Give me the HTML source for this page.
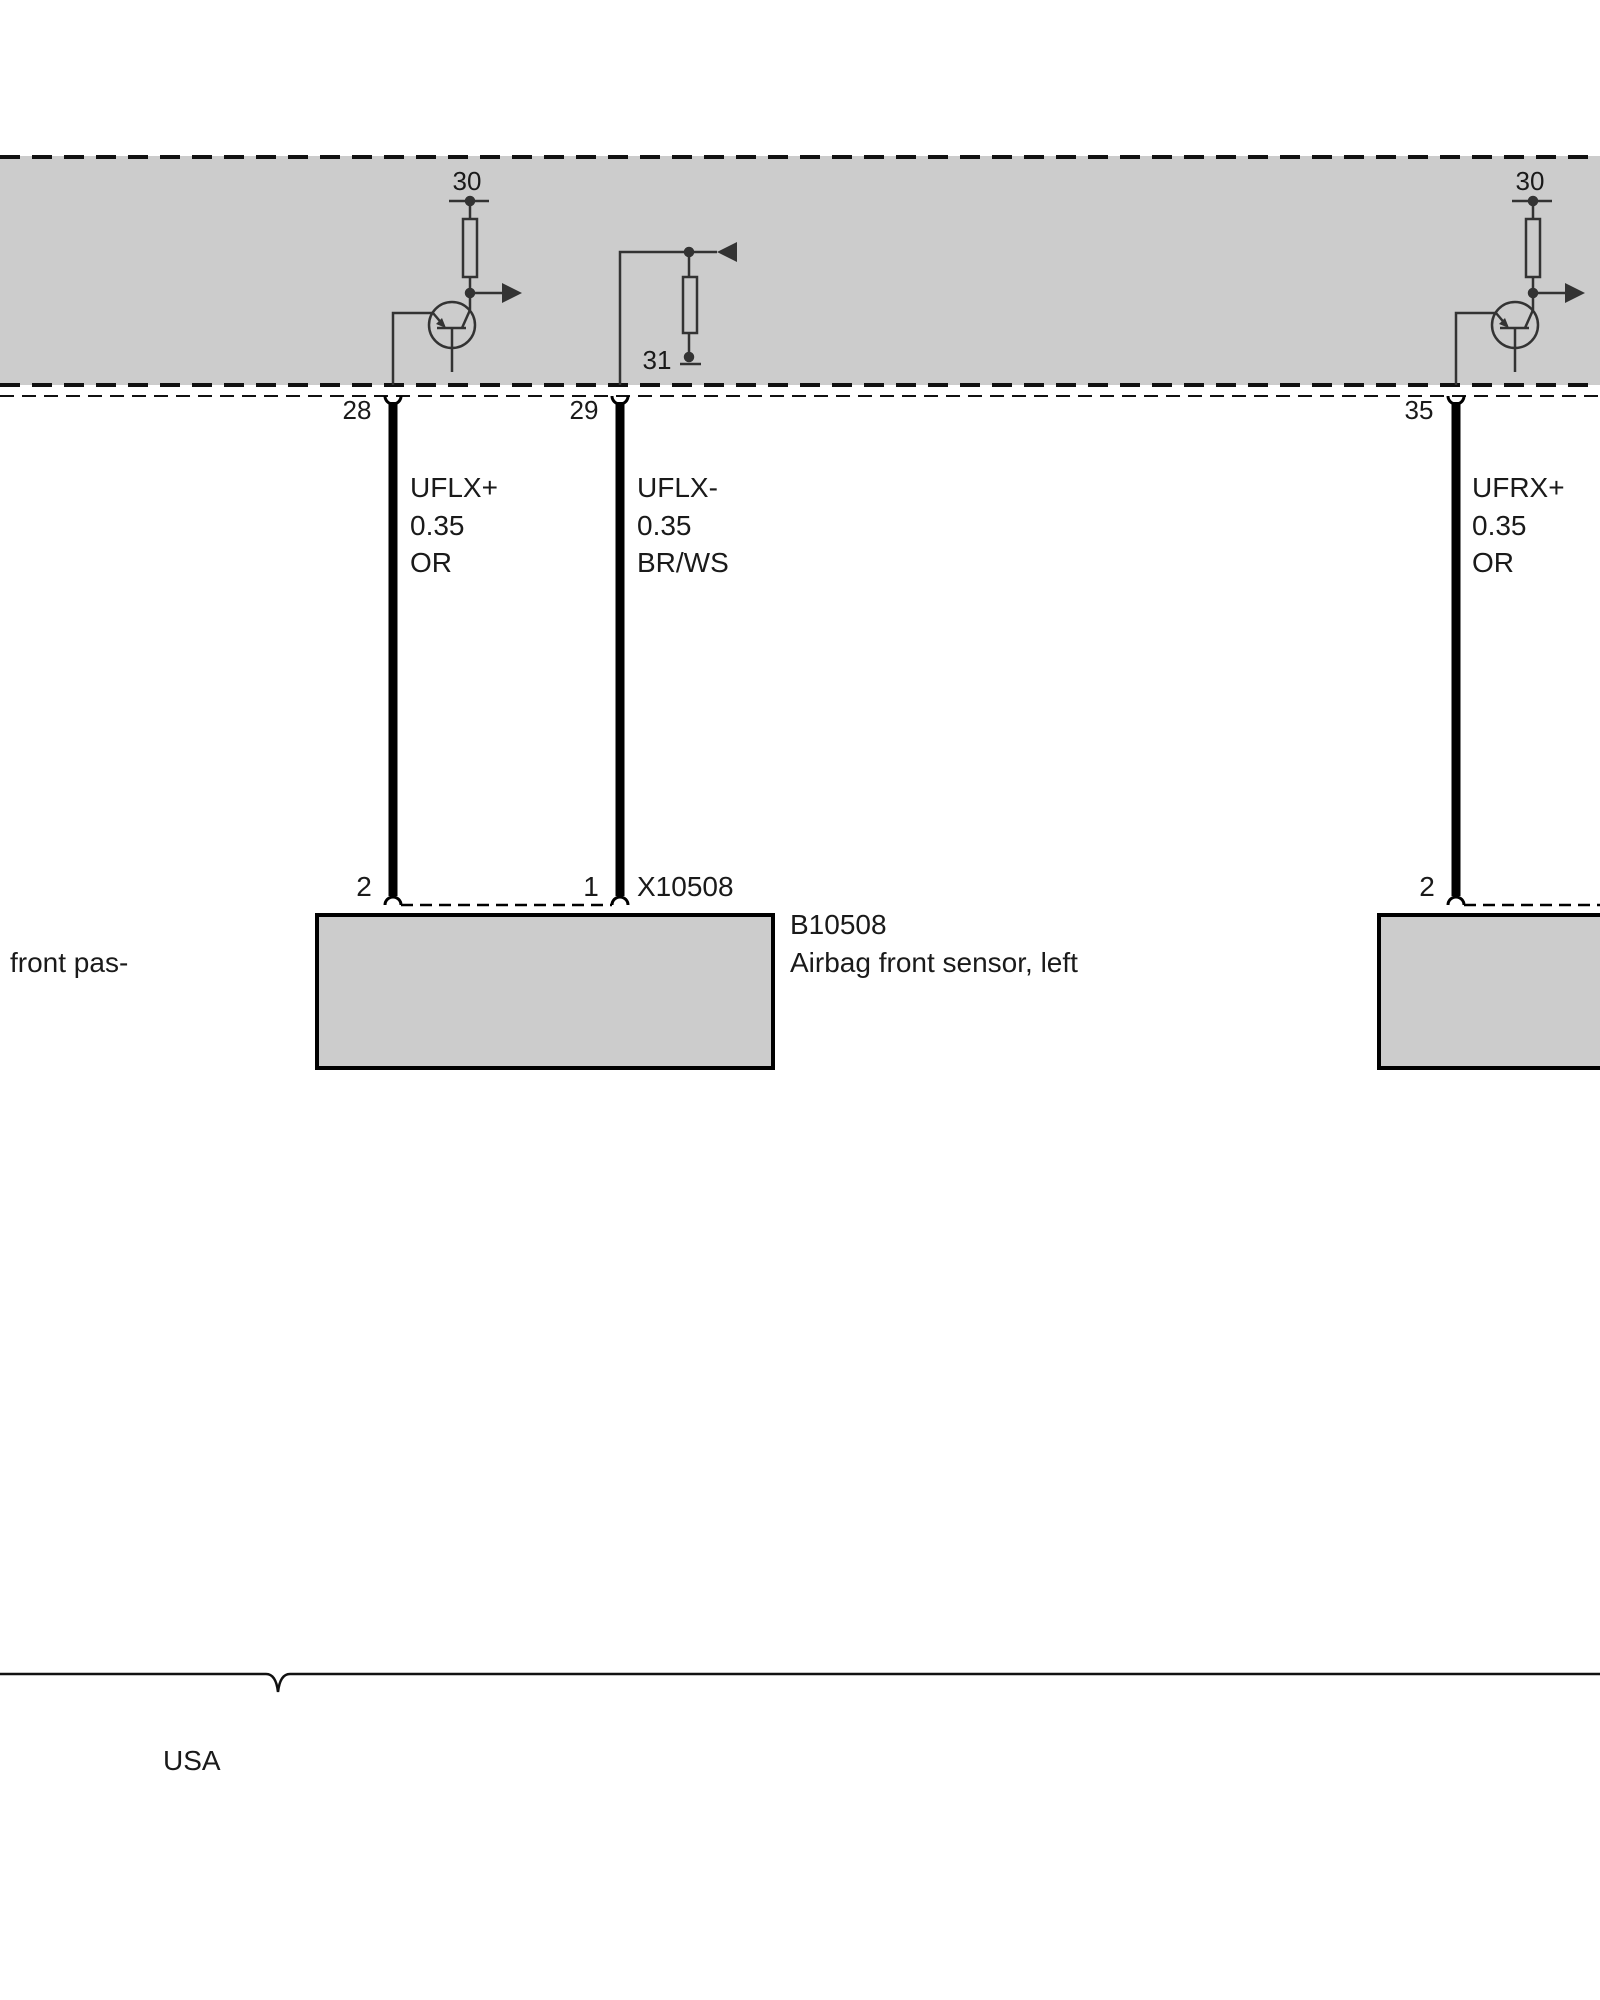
<!DOCTYPE html>
<html><head><style>body{margin:0;background:#fff}svg{display:block}text{font-family:"Liberation Sans",sans-serif;fill:#1a1a1a}</style></head>
<body>
<svg width="1600" height="2000" viewBox="0 0 1600 2000" xmlns="http://www.w3.org/2000/svg">
<rect x="0" y="156" width="1600" height="229" fill="#cccccc"/>
<line x1="0" y1="157" x2="1600" y2="157" stroke="#111" stroke-width="4" stroke-dasharray="20,12"/>
<line x1="0" y1="385" x2="1600" y2="385" stroke="#111" stroke-width="4" stroke-dasharray="20,12"/>
<line x1="0" y1="396" x2="1600" y2="396" stroke="#111" stroke-width="2" stroke-dasharray="14,8"/>

<g id="tr" stroke="#333" stroke-width="2.5" fill="none">
<text x="467" y="190" font-size="26" text-anchor="middle" stroke="none">30</text>
<line x1="449" y1="201" x2="489" y2="201"/>
<circle cx="470" cy="201" r="4" fill="#333"/>
<line x1="470" y1="201" x2="470" y2="219"/>
<rect x="463" y="219" width="14" height="58"/>
<line x1="470" y1="277" x2="470" y2="310"/>
<circle cx="470" cy="293" r="4" fill="#333"/>
<line x1="470" y1="293" x2="502" y2="293"/>
<polygon points="502,283 522,293 502,303" fill="#333" stroke="none"/>
<circle cx="452" cy="325" r="23"/>
<line x1="437" y1="328" x2="466" y2="328"/>
<line x1="452" y1="328" x2="452" y2="372"/>
<line x1="470" y1="310" x2="462" y2="328"/>
<line x1="433" y1="313" x2="444" y2="326"/>
<polygon points="446,328 436,324 442,318" fill="#333" stroke="none"/>
<polyline points="393,385 393,313 433,313"/>
</g>
<use href="#tr" transform="translate(1063,0)"/>

<g stroke="#333" stroke-width="2.5" fill="none">
<polyline points="620,385 620,252 717,252"/>
<polygon points="717,252 737,242 737,262" fill="#333" stroke="none"/>
<circle cx="689" cy="252" r="4" fill="#333"/>
<line x1="689" y1="252" x2="689" y2="277"/>
<rect x="683" y="277" width="14" height="56"/>
<line x1="689" y1="333" x2="689" y2="357"/>
<circle cx="689" cy="357" r="4" fill="#333"/>
<line x1="680" y1="364" x2="701" y2="364"/>
</g>
<text x="657" y="369" font-size="26" text-anchor="middle">31</text>

<g stroke="#000" stroke-width="9">
<line x1="393" y1="402" x2="393" y2="896"/>
<line x1="620" y1="402" x2="620" y2="896"/>
<line x1="1456" y1="402" x2="1456" y2="896"/>
</g>
<g stroke="#000" stroke-width="3" fill="none">
<path d="M385,396 A8,8 0 0 0 401,396"/>
<path d="M612,396 A8,8 0 0 0 628,396"/>
<path d="M1448,396 A8,8 0 0 0 1464,396"/>
<path d="M385,905 A8,8 0 0 1 401,905"/>
<path d="M612,905 A8,8 0 0 1 628,905"/>
<path d="M1448,905 A8,8 0 0 1 1464,905"/>
<line x1="401" y1="905" x2="612" y2="905" stroke-dasharray="12,7" stroke-width="2.5"/>
<line x1="1464" y1="905" x2="1600" y2="905" stroke-dasharray="12,7" stroke-width="2.5"/>
</g>

<rect x="317" y="915" width="456" height="153" fill="#cccccc" stroke="#000" stroke-width="4"/>
<rect x="1379" y="915" width="240" height="153" fill="#cccccc" stroke="#000" stroke-width="4"/>

<g font-size="28">
<text x="357" y="419" font-size="26" text-anchor="middle">28</text>
<text x="584" y="419" font-size="26" text-anchor="middle">29</text>
<text x="1419" y="419" font-size="26" text-anchor="middle">35</text>
<text x="410" y="497">UFLX+</text><text x="410" y="535">0.35</text><text x="410" y="572">OR</text>
<text x="637" y="497">UFLX-</text><text x="637" y="535">0.35</text><text x="637" y="572">BR/WS</text>
<text x="1472" y="497">UFRX+</text><text x="1472" y="535">0.35</text><text x="1472" y="572">OR</text>
<text x="364" y="896" text-anchor="middle">2</text>
<text x="591" y="896" text-anchor="middle">1</text>
<text x="637" y="896">X10508</text>
<text x="1427" y="896" text-anchor="middle">2</text>
<text x="790" y="934">B10508</text>
<text x="790" y="972">Airbag front sensor, left</text>
<text x="10" y="972">front pas-</text>
<text x="163" y="1770">USA</text>
</g>

<path d="M0,1674 H266 Q276,1674 278,1692 Q280,1674 290,1674 H1600" stroke="#111" stroke-width="2.5" fill="none"/>
</svg>
</body></html>
